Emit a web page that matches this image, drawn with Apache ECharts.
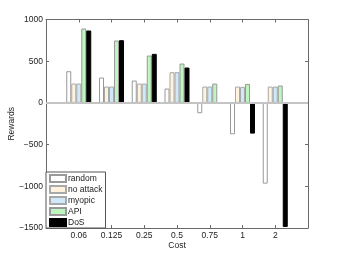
<!DOCTYPE html>
<html>
<head>
<meta charset="utf-8">
<script src="https://cdn.jsdelivr.net/npm/echarts@6/dist/echarts.min.js"></script>
<style>html,body{margin:0;padding:0;background:#fff}#c{width:341px;height:257px}</style>
</head>
<body>
<div id="c"></div>
<script>
var categories = ['0.06', '0.125', '0.25', '0.5', '0.75', '1', '2'];
var seriesNames = ['random', 'no attack', 'myopic', 'API', 'DoS'];
var randomVals = [380, 304, 268, 172, -124, -376, -968];
var noAttackVals = [232, 196, 232, 368, 196, 196, 196];
var myopicVals = [232, 196, 232, 368, 196, 192, 196];
var apiVals = [892, 748, 568, 472, 232, 228, 208];
var dosVals = [868, 752, 588, 424, 8, -368, -1488];
var yTicks = [-1500, -1000, -500, 0, 500, 1000];

var fills = ['#ffffff', '#fff3dd', '#cfe8fa', '#bff5bf', '#000000'];
var borders = ['#999999', '#a8a8a8', '#a8a8a8', '#999999', '#000000'];
var allVals = [randomVals, noAttackVals, myopicVals, apiVals, dosVals];

var xData = [''].concat(categories).concat(['']);
function pad(a){ return [null].concat(a).concat([null]); }
var font = 'Liberation Sans, Arial, sans-serif';
var axisColor = '#6a6a6a';

var series = seriesNames.map(function(n, i){
  var s = {
    name: n, type: 'bar', data: pad(allVals[i]),
    barWidth: 5, barGap: '0%',
    itemStyle: { color: fills[i], borderColor: borders[i], borderWidth: 1 },
    emphasis: { disabled: true }
  };
  if (i === 0) {
    s.markLine = {
      silent: true, symbol: ['none', 'none'], label: { show: false },
      lineStyle: { color: '#c4c4c4', width: 2, type: 'solid' },
      data: [{ yAxis: 0 }], animation: false
    };
  }
  return s;
});

var chart = echarts.init(document.getElementById('c'));
chart.setOption({
  animation: false,
  grid: { left: 46, right: 33, top: 19.5, bottom: 29, show: false, containLabel: false, outerBoundsMode: 'none' },
  legend: {
    orient: 'vertical', left: 46, top: 172, z: 4,
    data: seriesNames.map(function(n){ return { name: n, icon: 'rect' }; }),
    itemWidth: 16, itemHeight: 7, itemGap: 2,
    padding: [2, 3, 1, 3],
    borderColor: '#555', borderWidth: 1, backgroundColor: '#fff',
    textStyle: { fontFamily: font, fontSize: 8.5, color: '#222', lineHeight: 8, padding: [0, 0, 0, -3] },
    selectedMode: false
  },
  xAxis: [{
    type: 'category', data: xData, boundaryGap: false, position: 'bottom',
    name: 'Cost', nameLocation: 'middle', nameGap: 13, nameMoveOverlap: false,
    nameTextStyle: { fontFamily: font, fontSize: 8.5, color: '#222' },
    axisLine: { onZero: false, lineStyle: { color: axisColor } },
    axisTick: { inside: true, length: 3, lineStyle: { color: axisColor }, interval: function(i){ return i > 0 && i < 8; } },
    axisLabel: { fontFamily: font, fontSize: 8.5, color: '#222', margin: 3, interval: 0 },
    splitLine: { show: false }
  }, {
    type: 'category', data: xData, boundaryGap: false, position: 'top',
    axisLine: { onZero: false, lineStyle: { color: axisColor } },
    axisTick: { inside: true, length: 3, lineStyle: { color: axisColor }, interval: function(i){ return i > 0 && i < 8; } },
    axisLabel: { show: false }, splitLine: { show: false }
  }],
  yAxis: [{
    type: 'value', min: yTicks[0], max: yTicks[yTicks.length - 1], interval: 500,
    name: 'Rewards', nameLocation: 'middle', nameGap: 30, nameMoveOverlap: false,
    nameTextStyle: { fontFamily: font, fontSize: 8.5, color: '#222' },
    axisLine: { show: true, onZero: false, lineStyle: { color: axisColor } },
    axisTick: { show: true, inside: true, length: 3, lineStyle: { color: axisColor } },
    axisLabel: { fontFamily: font, fontSize: 8.5, color: '#222', margin: 3, hideOverlap: false,
      formatter: function(v){ return v < 0 ? '\u2212' + Math.abs(v) : String(v); } },
    splitLine: { show: false }
  }, {
    type: 'value', min: yTicks[0], max: yTicks[yTicks.length - 1], interval: 500, position: 'right',
    axisLine: { show: true, onZero: false, lineStyle: { color: axisColor } },
    axisTick: { show: true, inside: true, length: 3, lineStyle: { color: axisColor } },
    axisLabel: { show: false }, splitLine: { show: false }
  }],
  series: series
});
</script>
</body>
</html>
